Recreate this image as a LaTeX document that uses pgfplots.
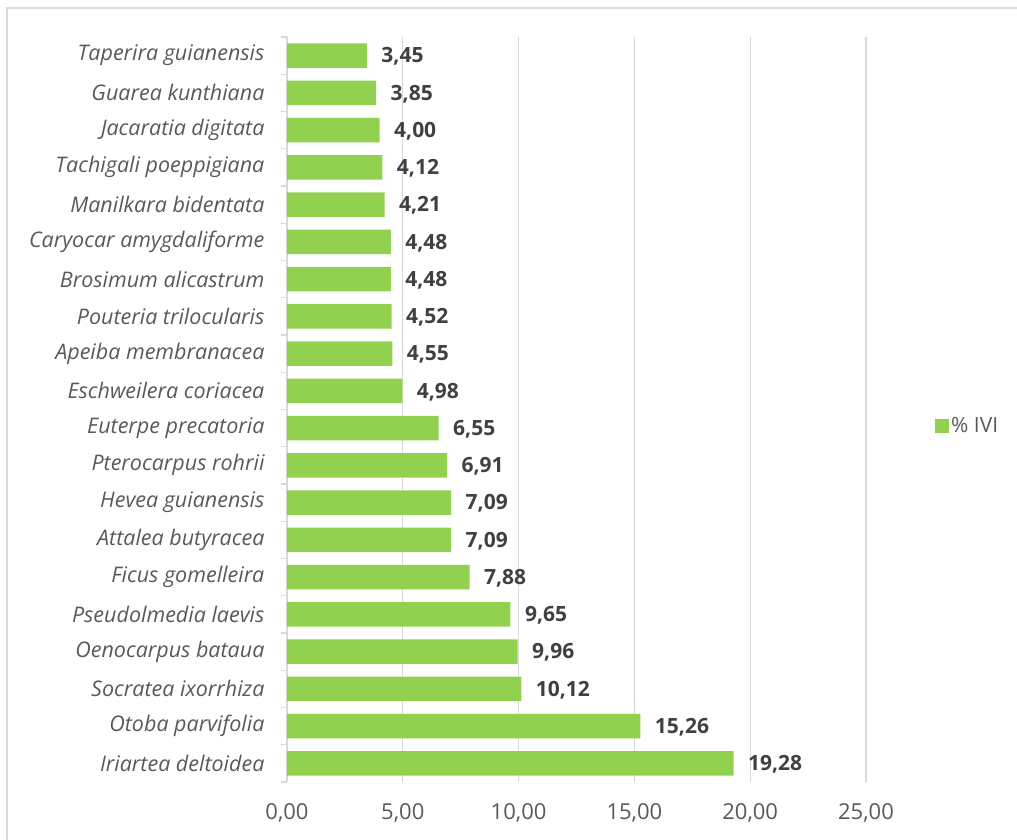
\documentclass[border=0pt]{standalone}
\usepackage{pgfplots}
\pgfplotsset{compat=1.18}
\usepackage{fontspec}
\setmainfont{Open Sans}
\definecolor{barg}{HTML}{92D050}
\definecolor{gridc}{HTML}{D9D9D9}
\definecolor{txt}{HTML}{595959}
\definecolor{lbl}{HTML}{404040}
\begin{document}
\begin{tikzpicture}[font=\fontsize{19}{23}\selectfont]
\useasboundingbox (-287pt,-57pt) rectangle (730pt,782pt);
\draw[gridc, line width=1.5pt] (-280pt,-90pt) rectangle (780pt,774pt);
\begin{axis}[
  at={(0pt,0pt)}, anchor=south west,
  scale only axis, width=579pt, height=745pt,
  xbar, xmin=0, xmax=25, ymin=-0.5, ymax=19.5,
  enlargelimits=false,
  axis lines*=left,
  x axis line style={draw=none},
  y axis line style={draw=gridc, line width=1.2pt},
  xtick={0,5,10,15,20,25},
  xticklabels={{0,00},{5,00},{10,00},{15,00},{20,00},{25,00}},
  xmajorgrids, grid style={draw=gridc, line width=1.2pt},
  major tick length=0pt,
  ytick={0,...,19},
  minor ytick={-0.5,0.5,...,19.5},
  minor tick length=6pt, tick align=outside,
  minor tick style={draw=gridc, line width=1.2pt},
  yticklabels={Iriartea deltoidea, Otoba parvifolia, Socratea ixorrhiza, Oenocarpus bataua, Pseudolmedia laevis, Ficus gomelleira, Attalea butyracea, Hevea guianensis, Pterocarpus rohrii, Euterpe precatoria, Eschweilera coriacea, Apeiba membranacea, Pouteria trilocularis, Brosimum alicastrum, Caryocar amygdaliforme, Manilkara bidentata, Tachigali poeppigiana, Jacaratia digitata, Guarea kunthiana, Taperira guianensis},
  yticklabel style={font=\fontsize{21.5}{25}\selectfont\itshape, text=txt, xshift=-19pt},
  xticklabel style={font=\fontsize{22}{26}\selectfont, text=txt, yshift=-18pt},
  bar width=24.5pt,
  nodes near coords,
  nodes near coords style={font=\fontsize{21}{25}\selectfont\bfseries, text=lbl, anchor=west, xshift=11pt, yshift=-1pt},
  /pgf/number format/.cd, fixed, fixed zerofill, precision=2, use comma, assume math mode=true,
  /pgfplots/.cd,
  legend style={at={(1.114,0.478)}, anchor=west, draw=none, fill=none, text=txt, font=\fontsize{21}{25}\selectfont},
  legend image code/.code={\fill[barg] (0pt,-7pt) rectangle (14pt,7pt);},
]
\addplot[fill=barg, draw=none] coordinates {
 (19.28,0) (15.26,1) (10.12,2) (9.96,3) (9.65,4) (7.88,5) (7.09,6) (7.09,7) (6.91,8) (6.55,9)
 (4.98,10) (4.55,11) (4.52,12) (4.48,13) (4.48,14) (4.21,15) (4.12,16) (4.00,17) (3.85,18) (3.45,19)
};
\legend{\% IVI}
\end{axis}
\end{tikzpicture}
\end{document}
